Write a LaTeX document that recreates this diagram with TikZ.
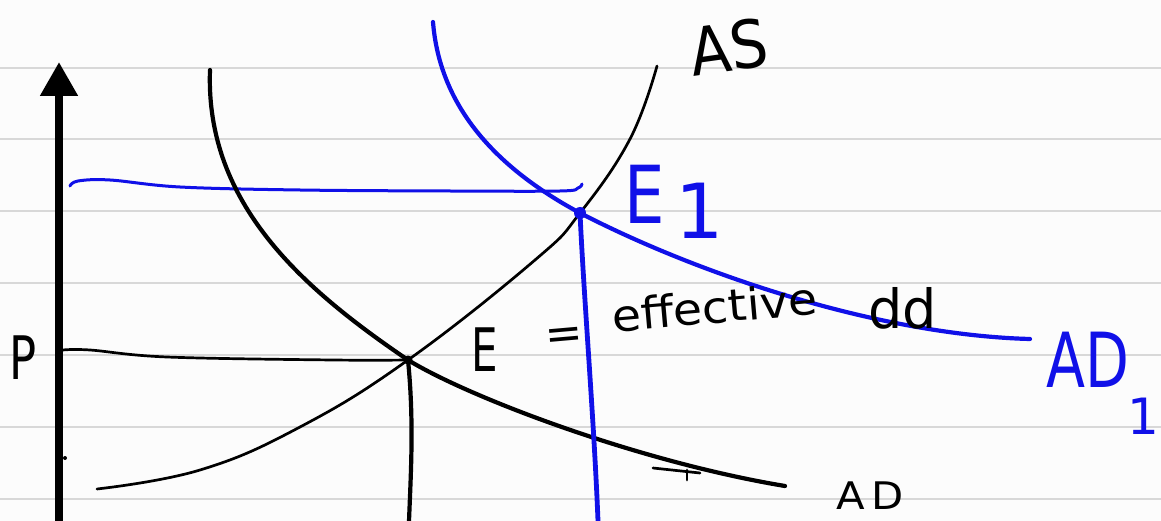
\documentclass[tikz,border=0pt]{standalone}
\usepackage{fontspec}
\setmainfont{DejaVu Sans}
\usetikzlibrary{arrows.meta}
\definecolor{pen}{RGB}{16,16,232}
\definecolor{ruleline}{RGB}{216,216,216}
\definecolor{paper}{RGB}{252,252,252}
\tikzset{
  ink/.style={line cap=round,line join=round},
  blackcurve/.style={ink,black,line width=4.2pt},
  thincurve/.style={ink,black,line width=2.7pt},
  bluecurve/.style={ink,pen,line width=4.2pt},
  bluethin/.style={ink,pen,line width=3pt},
  lbl/.style={inner sep=0pt,outer sep=0pt},
  ruled/.style={ruleline,line width=2pt}
}
\begin{document}
\begin{tikzpicture}[x=1pt,y=-1pt]
\fill[paper] (0,0) rectangle (1161,521);
\useasboundingbox (0,0) rectangle (1161,521);
% ruled paper lines
\foreach \yy in {68,139,211,283,355,427,499}{
  \draw[ruled] (0,\yy) -- (1161,\yy);
}
% key points
\coordinate (E) at (408,360);
\coordinate (E1) at (580,213);
\coordinate (axisbot) at (59,530);
\coordinate (axistop) at (59,62);
% vertical axis
\draw[black,line width=8pt,-{Triangle[length=34pt,width=36pt]}] (axisbot) -- (axistop);
\fill[black] (65,458) circle (2pt);
% horizontal price line P
\draw[thincurve] plot[smooth,tension=0.6] coordinates {(63,350) (90,350) (167,357) (333,360) (E)};
% blue horizontal line
\draw[bluethin] plot[smooth,tension=0.6] coordinates {(70,186) (78,181) (110,180) (180,187) (300,190) (450,191) (560,191) (578,188) (582,184)};
% AS curve
\draw[thincurve] plot[smooth,tension=0.7] coordinates {(97,489) (200,470) (300,427) (E) (535,260) (E1) (630,139) (657,66)};
% AD curve
\draw[blackcurve] (210,70) .. controls (205,205) and (305,290) .. (E)
                  .. controls (470,398) and (640,462) .. (785,486);
% AD1 curve
\draw[bluecurve] (433,22) .. controls (440,110) and (500,170) .. (E1)
                 .. controls (700,275) and (880,335) .. (1030,339);
% vertical from E
\draw[blackcurve] (E) .. controls (414,420) and (411,470) .. (409,521);
% vertical from E1
\draw[bluecurve,line width=4.8pt] (E1) .. controls (584,300) and (594,420) .. (598,521);
% small marks on AD
\draw[thincurve] (653,468) -- (700,473);
\draw[thincurve] (687,470) -- (687,480);
\fill[black] (740,477) circle (1.2pt);
% dots
\fill[black] (E) circle (4.5pt);
\fill[pen] (E1) circle (6pt);
% labels
\node[lbl,rotate=8,xscale=0.9] (lAS) at (729,47) {\fontsize{66}{66}\selectfont AS};
\node[lbl,pen,xscale=0.8] (lE1) at (645,194) {\fontsize{80}{80}\selectfont E};
\node[lbl,pen] (lE1b) at (700,211) {\fontsize{76}{76}\selectfont 1};
\node[lbl,xscale=0.7] (lE) at (485,350) {\fontsize{60}{60}\selectfont E};
\node[lbl,rotate=5] (leq) at (564,339) {\fontsize{45}{45}\selectfont =};
\node[lbl,rotate=5,anchor=base west,xscale=1.08] (leff) at (613,332) {\fontsize{44}{44}\selectfont effective};
\node[lbl,anchor=base west,xscale=1.0] (ldd) at (868,328) {\fontsize{54}{54}\selectfont dd};
\node[lbl,pen,xscale=0.75] (lAD1) at (1088,360) {\fontsize{76}{76}\selectfont AD};
\node[lbl,pen] (lAD1b) at (1143,416) {\fontsize{50}{50}\selectfont 1};
\node[lbl,xscale=1.1] (lAD) at (870,496) {\fontsize{38}{38}\selectfont A\,D};
\node[lbl,xscale=0.75] (lP) at (23,358) {\fontsize{60}{60}\selectfont P};
\end{tikzpicture}
\end{document}
